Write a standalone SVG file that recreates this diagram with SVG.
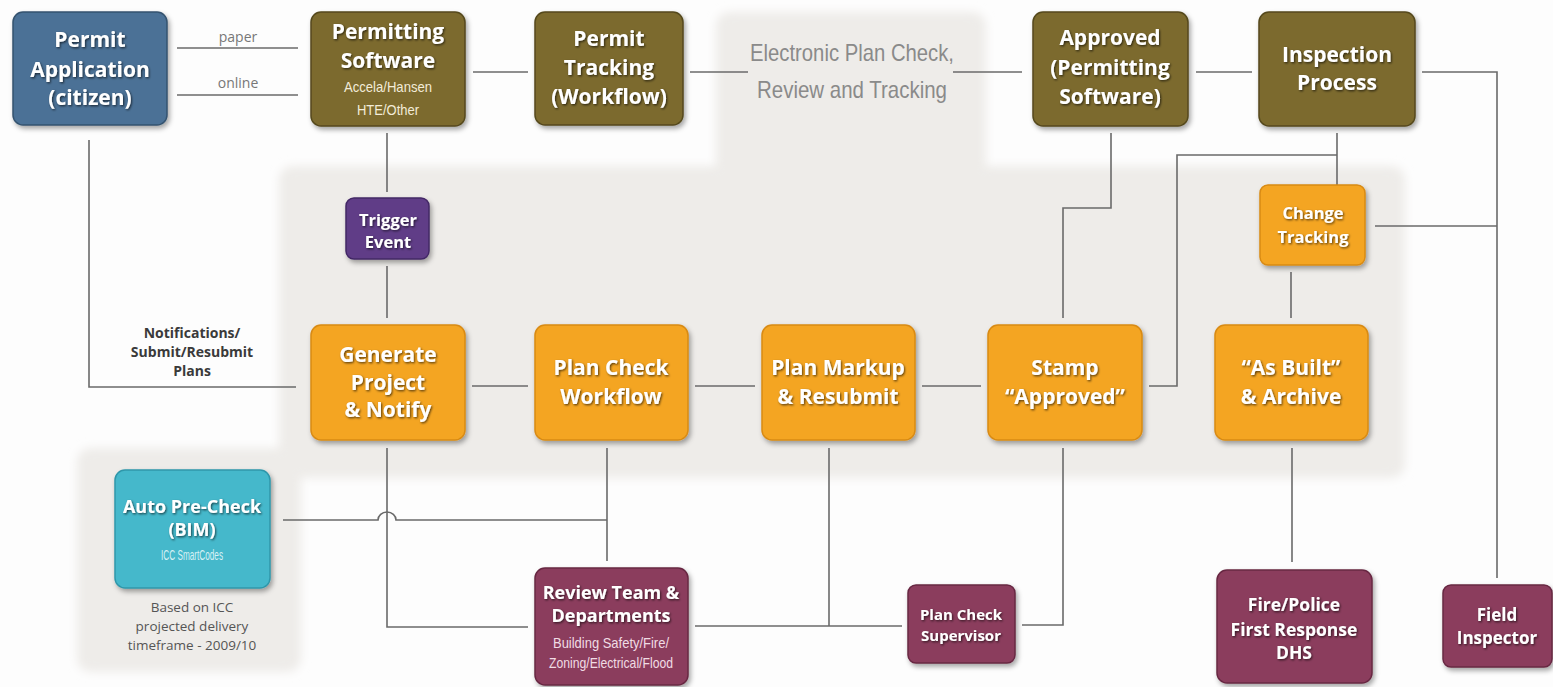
<svg xmlns="http://www.w3.org/2000/svg" width="1553" height="687" viewBox="0 0 1553 687">
<defs>
<filter id="shadow" x="-10%" y="-10%" width="125%" height="130%">
<feDropShadow dx="2" dy="3" stdDeviation="2.5" flood-color="#000" flood-opacity="0.35"/>
</filter>
<filter id="tshadow" x="-10%" y="-20%" width="120%" height="150%">
<feDropShadow dx="1" dy="1.2" stdDeviation="0.8" flood-color="#000" flood-opacity="0.65"/>
</filter>
<filter id="soft" x="-5%" y="-5%" width="110%" height="110%">
<feGaussianBlur stdDeviation="5"/>
</filter>
<style>
.blue{fill:#4b7196;stroke:#34536f;stroke-width:1.5}
.olive{fill:#7b6a2e;stroke:#55481c;stroke-width:1.5}
.orange{fill:#f4a521;stroke:#d88a12;stroke-width:1.5}
.purple{fill:#603d87;stroke:#432866;stroke-width:1.5}
.cyan{fill:#45b8cb;stroke:#2f97aa;stroke-width:1.5}
.maroon{fill:#8b3c5d;stroke:#672842;stroke-width:1.5}
.t{font-family:"Open Sans","Noto Sans",sans-serif;font-weight:bold;fill:#fff;text-anchor:middle;filter:url(#tshadow)}
.big{font-size:21px}
.med{font-size:18px}
.sm{font-size:16.5px}
.sub{font-family:"Liberation Sans",sans-serif;font-size:14.5px;fill:#f3ecd8;text-anchor:middle}
.lbl{font-family:"Open Sans","Noto Sans",sans-serif;font-size:14px;fill:#777;text-anchor:middle}
.note{font-family:"Open Sans","Noto Sans",sans-serif;font-size:13.5px;fill:#555;text-anchor:middle}
.notif{font-family:"Open Sans","Noto Sans",sans-serif;font-size:14px;font-weight:bold;fill:#3a3a3a;text-anchor:middle}
.epc{font-family:"Liberation Sans",sans-serif;font-size:24px;fill:#8a8a8a;text-anchor:middle}
.ln{fill:none;stroke:#6a6a6a;stroke-width:1.6}
</style>
</defs>
<rect width="1553" height="687" fill="#fdfdfd"/>
<g id="panels" fill="#eeece9" filter="url(#soft)">
<rect x="716" y="12" width="270" height="170" rx="14"/>
<rect x="279" y="166" width="1126" height="312" rx="14"/>
<rect x="77" y="448" width="224" height="224" rx="14"/>
</g>
<g id="connectors">
<path class="ln" d="M177,48 H298"/>
<path class="ln" d="M177,95 H298"/>
<path class="ln" d="M473,72 H528"/>
<path class="ln" d="M690,72 H748"/>
<path class="ln" d="M953,72 H1022"/>
<path class="ln" d="M1196,72 H1252"/>
<path class="ln" d="M1422,72 H1497 V578"/>
<path class="ln" d="M1375,226 H1497"/>
<path class="ln" d="M1337,133 V185"/>
<path class="ln" d="M1337,155 H1177 V386 H1149"/>
<path class="ln" d="M1111,133 V208 H1063 V318"/>
<path class="ln" d="M1291,272 V318"/>
<path class="ln" d="M1292,448 V562"/>
<path class="ln" d="M1063,448 V625 H1022"/>
<path class="ln" d="M829,448 V626"/>
<path class="ln" d="M695,626 H902"/>
<path class="ln" d="M607,448 V561"/>
<path class="ln" d="M283,520 H378 A9,8 0 0 1 396,520 H607"/>
<path class="ln" d="M387,448 V627 H528"/>
<path class="ln" d="M387,133 V192"/>
<path class="ln" d="M387,266 V318"/>
<path class="ln" d="M89,140 V387 H296"/>
<path class="ln" d="M472,386 H528"/>
<path class="ln" d="M695,386 H755"/>
<path class="ln" d="M922,386 H981"/>
</g>
<g id="labels">
<text class="lbl" x="238" y="42">paper</text>
<text class="lbl" x="238" y="88">online</text>
<text class="epc" x="852" y="61" textLength="204" lengthAdjust="spacingAndGlyphs">Electronic Plan Check,</text>
<text class="epc" x="852" y="98" textLength="190" lengthAdjust="spacingAndGlyphs">Review and Tracking</text>
<text class="notif" x="192" y="338">Notifications/</text>
<text class="notif" x="192" y="357">Submit/Resubmit</text>
<text class="notif" x="192" y="376">Plans</text>
<text class="note" x="192" y="612">Based on ICC</text>
<text class="note" x="192" y="631">projected delivery</text>
<text class="note" x="192" y="650">timeframe - 2009/10</text>
</g>
<g id="permit-application">
<rect class="blue" x="13" y="12" width="154" height="113" rx="10" filter="url(#shadow)"/>
<text class="t big" x="90" y="47">Permit</text>
<text class="t big" x="90" y="77">Application</text>
<text class="t big" x="90" y="105">(citizen)</text>
</g>
<g id="permitting-software">
<rect class="olive" x="311" y="12" width="154" height="114" rx="10" filter="url(#shadow)"/>
<text class="t big" x="388" y="39">Permitting</text>
<text class="t big" x="388" y="68">Software</text>
<text class="sub" x="388" y="92" textLength="88" lengthAdjust="spacingAndGlyphs">Accela/Hansen</text>
<text class="sub" x="388" y="115" textLength="62" lengthAdjust="spacingAndGlyphs">HTE/Other</text>
</g>
<g id="permit-tracking">
<rect class="olive" x="535" y="12" width="148" height="113" rx="10" filter="url(#shadow)"/>
<text class="t big" x="609" y="46">Permit</text>
<text class="t big" x="609" y="75">Tracking</text>
<text class="t big" x="609" y="104">(Workflow)</text>
</g>
<g id="approved">
<rect class="olive" x="1033" y="12" width="155" height="114" rx="10" filter="url(#shadow)"/>
<text class="t big" x="1110" y="45">Approved</text>
<text class="t big" x="1110" y="75">(Permitting</text>
<text class="t big" x="1110" y="104">Software)</text>
</g>
<g id="inspection-process">
<rect class="olive" x="1259" y="12" width="156" height="114" rx="10" filter="url(#shadow)"/>
<text class="t big" x="1337" y="62">Inspection</text>
<text class="t big" x="1337" y="90">Process</text>
</g>
<g id="trigger-event">
<rect class="purple" x="346" y="198" width="83" height="61" rx="8" filter="url(#shadow)"/>
<text class="t sm" x="388" y="226">Trigger</text>
<text class="t sm" x="388" y="248">Event</text>
</g>
<g id="change-tracking">
<rect class="orange" x="1260" y="185" width="105" height="80" rx="8" filter="url(#shadow)"/>
<text class="t sm" x="1313" y="219">Change</text>
<text class="t sm" x="1313" y="243">Tracking</text>
</g>
<g id="generate-project">
<rect class="orange" x="311" y="325" width="154" height="115" rx="10" filter="url(#shadow)"/>
<text class="t big" x="388" y="362">Generate</text>
<text class="t big" x="388" y="390">Project</text>
<text class="t big" x="388" y="417">&amp; Notify</text>
</g>
<g id="plan-check-workflow">
<rect class="orange" x="535" y="325" width="153" height="115" rx="10" filter="url(#shadow)"/>
<text class="t big" x="611" y="375">Plan Check</text>
<text class="t big" x="611" y="404">Workflow</text>
</g>
<g id="plan-markup">
<rect class="orange" x="762" y="325" width="153" height="115" rx="10" filter="url(#shadow)"/>
<text class="t big" x="838" y="375">Plan Markup</text>
<text class="t big" x="838" y="404">&amp; Resubmit</text>
</g>
<g id="stamp-approved">
<rect class="orange" x="988" y="325" width="154" height="115" rx="10" filter="url(#shadow)"/>
<text class="t big" x="1065" y="375">Stamp</text>
<text class="t big" x="1065" y="404">“Approved”</text>
</g>
<g id="as-built">
<rect class="orange" x="1215" y="325" width="153" height="115" rx="10" filter="url(#shadow)"/>
<text class="t big" x="1291" y="375">“As Built”</text>
<text class="t big" x="1291" y="404">&amp; Archive</text>
</g>
<g id="auto-pre-check">
<rect class="cyan" x="115" y="470" width="155" height="118" rx="10" filter="url(#shadow)"/>
<text class="t med" x="192" y="513">Auto Pre-Check</text>
<text class="t med" x="192" y="536">(BIM)</text>
<text class="sub" x="192" y="560" style="fill:#d6f1f5" textLength="62" lengthAdjust="spacingAndGlyphs">ICC SmartCodes</text>
</g>
<g id="review-team">
<rect class="maroon" x="535" y="568" width="153" height="117" rx="10" filter="url(#shadow)"/>
<text class="t med" x="611" y="599">Review Team &amp;</text>
<text class="t med" x="611" y="622">Departments</text>
<text class="sub" x="611" y="648" style="fill:#f0dce4" textLength="116" lengthAdjust="spacingAndGlyphs">Building Safety/Fire/</text>
<text class="sub" x="611" y="668" style="fill:#f0dce4" textLength="124" lengthAdjust="spacingAndGlyphs">Zoning/Electrical/Flood</text>
</g>
<g id="plan-check-supervisor">
<rect class="maroon" x="908" y="585" width="107" height="78" rx="8" filter="url(#shadow)"/>
<text class="t" x="961" y="620" font-size="15">Plan Check</text>
<text class="t" x="961" y="641" font-size="15">Supervisor</text>
</g>
<g id="fire-police">
<rect class="maroon" x="1217" y="570" width="155" height="113" rx="10" filter="url(#shadow)"/>
<text class="t" x="1294" y="611" font-size="17.5">Fire/Police</text>
<text class="t" x="1294" y="636" font-size="17.5">First Response</text>
<text class="t" x="1294" y="659" font-size="17.5">DHS</text>
</g>
<g id="field-inspector">
<rect class="maroon" x="1443" y="585" width="109" height="82" rx="8" filter="url(#shadow)"/>
<text class="t" x="1497" y="621" font-size="17">Field</text>
<text class="t" x="1497" y="644" font-size="17">Inspector</text>
</g>
</svg>
